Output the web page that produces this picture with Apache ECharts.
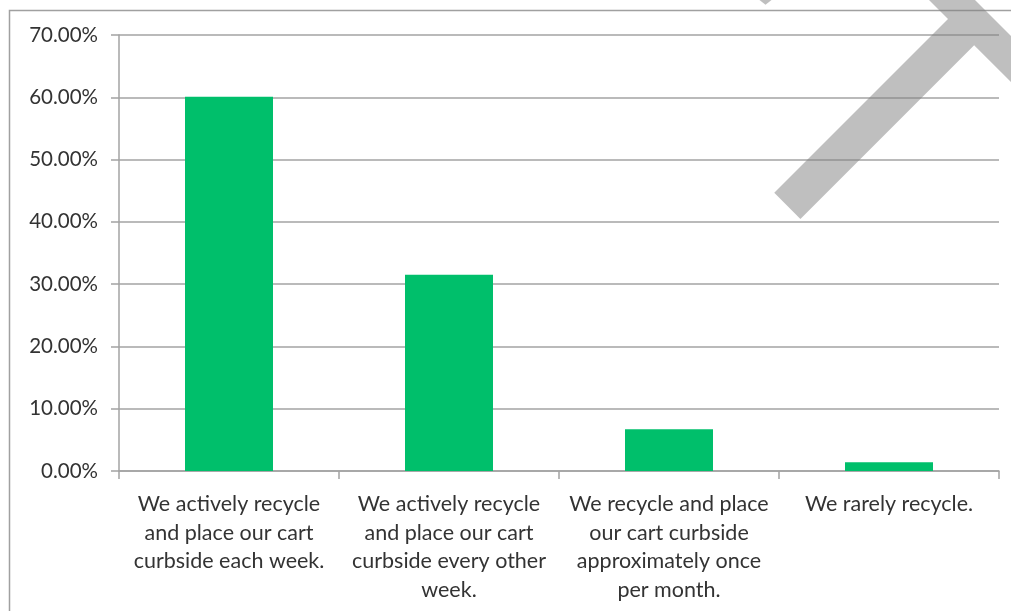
<!DOCTYPE html>
<html>
<head>
<meta charset="utf-8">
<title>Recycling frequency</title>
<script src="https://cdn.jsdelivr.net/npm/echarts@6/dist/echarts.min.js"></script>
<style>
  html, body { margin: 0; padding: 0; background: #ffffff; }
  #chart { width: 1011px; height: 611px; }
</style>
</head>
<body>
<div id="chart"></div>
<script>
// Survey answers (category labels, line-broken as printed)
var categories = [
  'We actively recycle\nand place our cart\ncurbside each week.',
  'We actively recycle\nand place our cart\ncurbside every other\nweek.',
  'We recycle and place\nour cart curbside\napproximately once\nper month.',
  'We rarely recycle.'
];
// Share of respondents, in percent
var shares = [60.1, 31.5, 6.7, 1.4];
// Value axis range and step, in percent
var axisMin = 0;
var axisMax = 70;
var axisStep = 10;

var chart = echarts.init(document.getElementById('chart'), null, { renderer: 'canvas' });

var gridColor = '#a3a3a3';
var textColor = '#333333';
var fontFamily = 'Lato, "Open Sans", sans-serif';

chart.setOption({
  animation: false,
  backgroundColor: '#ffffff',
  grid: { left: 119, right: 12, top: 35, bottom: 140, containLabel: false },
  xAxis: {
    type: 'category',
    data: categories,
    boundaryGap: true,
    axisLine: { show: true, lineStyle: { color: gridColor, width: 1.5 } },
    axisTick: { show: true, length: 8, alignWithLabel: false, lineStyle: { color: gridColor, width: 1.5 } },
    axisLabel: {
      interval: 0,
      margin: 19,
      color: textColor,
      fontFamily: fontFamily,
      fontSize: 21.5,
      lineHeight: 28.5,
      align: 'center'
    },
    splitLine: { show: false }
  },
  yAxis: {
    type: 'value',
    min: axisMin,
    max: axisMax,
    interval: axisStep,
    axisLine: { show: true, lineStyle: { color: gridColor, width: 1.5 } },
    axisTick: { show: true, length: 8, lineStyle: { color: gridColor, width: 1.5 } },
    axisLabel: {
      margin: 21,
      color: textColor,
      fontFamily: fontFamily,
      fontSize: 20.5,
      formatter: function (v) { return v.toFixed(2) + '%'; }
    },
    splitLine: { show: true, lineStyle: { color: gridColor, width: 1.5 } }
  },
  series: [{
    type: 'bar',
    data: shares,
    barWidth: '40%',
    itemStyle: { color: '#00bf6b' },
    label: { show: false }
  }],
  graphic: [
    // outer frame (left and top edges)
    {
      type: 'polyline',
      silent: true,
      z: 50,
      shape: { points: [[9.5, 611], [9.5, 10.5], [1011, 10.5]] },
      style: { stroke: '#a0a0a0', lineWidth: 1.5, fill: null }
    },
    // translucent grey stroke mark, top right
    {
      type: 'polygon',
      silent: true,
      z: 60,
      shape: {
        points: [
          [774.25, 192.75], [948, 19], [924, -5], [970, -5],
          [1020, 45], [1020, 91], [974.15, 45.15], [800.4, 218.9]
        ]
      },
      style: { fill: 'rgba(128,128,128,0.5)', stroke: null }
    },
    {
      type: 'polygon',
      silent: true,
      z: 60,
      shape: { points: [[757, -2], [774, -2], [765.5, 4.8]] },
      style: { fill: 'rgba(128,128,128,0.5)', stroke: null }
    }
  ]
});
</script>
</body>
</html>
